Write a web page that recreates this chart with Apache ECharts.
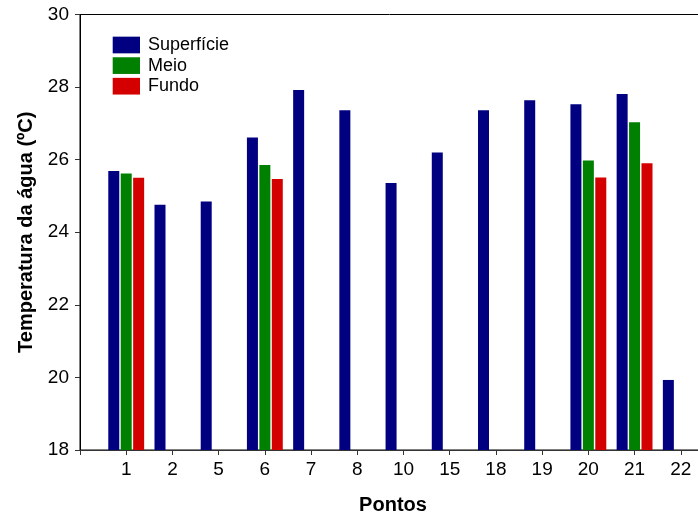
<!DOCTYPE html>
<html>
<head>
<meta charset="utf-8">
<script src="https://cdn.jsdelivr.net/npm/echarts@6/dist/echarts.min.js"></script>
<style>
  html, body { margin: 0; padding: 0; background: #fff; }
  #chart { width: 698px; height: 517px; }
</style>
</head>
<body>
<div id="chart"></div>
<script>
// Sampling points (x-axis tick labels)
const pontos = ['1', '2', '5', '6', '7', '8', '10', '15', '18', '19', '20', '21', '22'];

// Water temperature (ºC) at each depth; null where not measured
const superficie = [25.69, 24.76, 24.85, 26.61, 27.92, 27.36, 25.36, 26.20, 27.36, 27.64, 27.53, 27.81, 19.93];
const meio       = [25.62, null, null, 25.85, null, null, null, null, null, null, 25.98, 27.03, null];
const fundo      = [25.50, null, null, 25.47, null, null, null, null, null, null, 25.51, 25.90, null];

const yTicks = [18, 20, 22, 24, 26, 28, 30];

// Points sit at positions 1..n on a numeric axis that starts at 0
const toPairs = arr => arr.map((v, i) => (v == null ? null : [i + 1, v])).filter(d => d);

const font = 'Liberation Sans, Arial, sans-serif';

const chart = echarts.init(document.getElementById('chart'), null, { renderer: 'canvas' });

chart.setOption({
  animation: false,
  backgroundColor: '#ffffff',
  grid: {
    left: 80,
    top: 14.5,
    bottom: 67,
    width: 647,
    outerBoundsMode: 'none',
    containLabel: false,
    show: true,
    borderColor: '#000',
    borderWidth: 1,
    backgroundColor: 'transparent'
  },
  legend: {
    orient: 'vertical',
    left: 107.7,
    top: 31,
    itemWidth: 27.3,
    itemHeight: 16.7,
    itemGap: 2.6,
    icon: 'rect',
    textStyle: { fontFamily: font, fontSize: 18, lineHeight: 17, color: '#000', padding: [0, 0, 0, 3] },
    data: ['Superfície', 'Meio', 'Fundo']
  },
  xAxis: {
    type: 'value',
    min: 0,
    max: 14,
    interval: 1,
    name: 'Pontos',
    nameLocation: 'middle',
    nameGap: 45,
    nameTextStyle: { fontFamily: font, fontSize: 20, fontWeight: 'bold', color: '#000', padding: [0, 21, 0, 0] },
    axisLine: { show: true, lineStyle: { color: '#333', width: 1 } },
    axisTick: { show: true, length: 5, lineStyle: { color: '#333' } },
    axisLabel: {
      margin: 10,
      fontFamily: font,
      fontSize: 19,
      color: '#000',
      formatter: v => pontos[v - 1] || ''
    },
    splitLine: { show: false }
  },
  yAxis: {
    type: 'value',
    min: yTicks[0],
    max: yTicks[yTicks.length - 1],
    interval: 2,
    name: 'Temperatura da água (ºC)',
    nameLocation: 'middle',
    nameGap: 39,
    nameTextStyle: { fontFamily: font, fontSize: 20, fontWeight: 'bold', color: '#000' },
    axisLine: { show: true, lineStyle: { color: '#000', width: 1 } },
    axisTick: { show: true, length: 5, lineStyle: { color: '#333' } },
    axisLabel: { margin: 11, fontFamily: font, fontSize: 19, color: '#000' },
    splitLine: { show: false }
  },
  series: [
    {
      name: 'Superfície',
      type: 'bar',
      data: toPairs(superficie),
      barWidth: 11,
      barGap: '13%',
      itemStyle: { color: '#000080' }
    },
    {
      name: 'Meio',
      type: 'bar',
      data: toPairs(meio),
      barWidth: 11,
      barGap: '13%',
      itemStyle: { color: '#008000' }
    },
    {
      name: 'Fundo',
      type: 'bar',
      data: toPairs(fundo),
      barWidth: 11,
      barGap: '13%',
      itemStyle: { color: '#d40000' }
    }
  ]
});
</script>
</body>
</html>
